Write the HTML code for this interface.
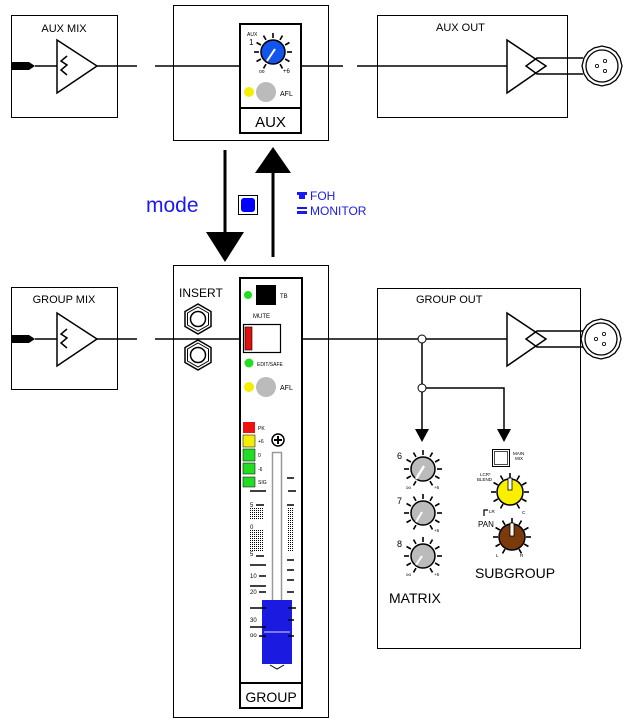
<!DOCTYPE html>
<html><head><meta charset="utf-8"><style>
html,body{margin:0;padding:0;background:#fff}
svg{display:block;font-family:"Liberation Sans",sans-serif}
</style></head><body>
<svg width="631" height="723" viewBox="0 0 631 723" xmlns="http://www.w3.org/2000/svg">
<defs>
<g id="tk" stroke="#000" stroke-width="1.6">
<line x1="0" y1="-14" x2="0" y2="-19" transform="rotate(-150)"/>
<line x1="0" y1="-14" x2="0" y2="-19" transform="rotate(-120)"/>
<line x1="0" y1="-14" x2="0" y2="-19" transform="rotate(-90)"/>
<line x1="0" y1="-14" x2="0" y2="-19" transform="rotate(-60)"/>
<line x1="0" y1="-14" x2="0" y2="-19" transform="rotate(-30)"/>
<line x1="0" y1="-14" x2="0" y2="-19"/>
<line x1="0" y1="-14" x2="0" y2="-19" transform="rotate(30)"/>
<line x1="0" y1="-14" x2="0" y2="-19" transform="rotate(60)"/>
<line x1="0" y1="-14" x2="0" y2="-19" transform="rotate(90)"/>
<line x1="0" y1="-14" x2="0" y2="-19" transform="rotate(120)"/>
<line x1="0" y1="-14" x2="0" y2="-19" transform="rotate(150)"/>
</g>
<g id="hex"><polygon points="0,-15 13,-7.5 13,7.5 0,15 -13,7.5 -13,-7.5" fill="#fff" stroke="#000" stroke-width="1.5"/><polygon points="0,-12 10.5,-6 10.5,6 0,12 -10.5,6 -10.5,-6" fill="none" stroke="#000"/><circle r="7.5" fill="none" stroke="#000" stroke-width="1.5"/></g>
<g id="xlr"><polygon points="20,0 18,8 14,14 8,18 0,20 -8,18 -14,14 -18,8 -20,0 -18,-8 -14,-14 -8,-18 0,-20 8,-18 14,-14 18,-8" fill="#fff" stroke="#000" stroke-width="1.3"/><circle r="16" fill="none" stroke="#000" stroke-width="1.3"/><circle r="1.6" cx="-5" cy="0" fill="none" stroke="#000" stroke-width=".8"/><circle r="1.6" cx="3" cy="-5" fill="none" stroke="#000" stroke-width=".8"/><circle r="1.6" cx="3" cy="5" fill="none" stroke="#000" stroke-width=".8"/></g>
<g id="amp"><polygon points="0,-26 40,0 0,27" fill="#fff" stroke="#000" stroke-width="1.5"/><polyline points="10,-10 4,-5 10,-1 4,4 10,9" fill="none" stroke="#000" stroke-width="1.5"/></g>
<g id="bal"><polygon points="0,-26 39,0 0,27" fill="#fff" stroke="#000" stroke-width="1.5"/></g>
<pattern id="dots" width="2" height="2" patternUnits="userSpaceOnUse"><rect width="1" height="1" fill="#000"/></pattern>
</defs>

<!-- AUX MIX -->
<rect x="11.5" y="15.5" width="106" height="102" fill="#fff" stroke="#000"/>
<text x="64" y="32" font-size="11" text-anchor="middle">AUX MIX</text>
<polygon points="11,62 29,62 35,66 29,70 11,70" fill="#000"/>
<line x1="35" y1="66" x2="57" y2="66" stroke="#000" stroke-width="1.5"/>
<use href="#amp" x="57" y="66"/>
<line x1="97" y1="66" x2="137" y2="66" stroke="#000" stroke-width="1.5"/>

<!-- AUX -->
<rect x="173.5" y="5.5" width="155" height="135" fill="#fff" stroke="#000"/>
<line x1="155" y1="66" x2="240" y2="66" stroke="#000" stroke-width="1.5"/>
<line x1="301" y1="66" x2="343" y2="66" stroke="#000" stroke-width="1.5"/>
<rect x="240" y="24" width="61" height="84" fill="#fff" stroke="#000" stroke-width="2"/>
<rect x="240" y="108" width="61" height="25" fill="#fff" stroke="#000" stroke-width="2"/>
<text x="270.5" y="127" font-size="15" text-anchor="middle">AUX</text>
<text x="247" y="36" font-size="5">AUX</text>
<text x="249" y="45" font-size="8">1</text>
<use href="#tk" x="273" y="52"/>
<circle cx="273" cy="52" r="12" fill="#1155ee" stroke="#000" stroke-width="1.5"/>
<line x1="267" y1="61" x2="275" y2="49" stroke="#fff" stroke-width="2"/>
<text x="259" y="73" font-size="5">oo</text><text x="283" y="73" font-size="6">+6</text>
<circle cx="249" cy="92" r="5" fill="#f4ee00"/>
<circle cx="266" cy="92" r="10" fill="#bbb"/>
<text x="280" y="96" font-size="7">AFL</text>

<!-- AUX OUT -->
<rect x="377.5" y="15.5" width="190" height="102" fill="#fff" stroke="#000"/>
<text x="436" y="31" font-size="11">AUX OUT</text>
<line x1="357" y1="66" x2="507" y2="66" stroke="#000" stroke-width="1.5"/>
<use href="#bal" x="507" y="66"/>
<polyline points="583,58 537,58 526,66 537,74 583,74" fill="none" stroke="#000" stroke-width="1.5"/>
<use href="#xlr" x="602" y="66"/>

<!-- arrows -->
<line x1="225" y1="150" x2="225" y2="233" stroke="#000" stroke-width="3"/>
<polygon points="206,232 244,232 225,262" fill="#000"/>
<line x1="273" y1="170" x2="273" y2="257" stroke="#000" stroke-width="3"/>
<polygon points="255,173 291,173 273,147" fill="#000"/>
<text x="146" y="212" font-size="21" fill="#1a1aee">mode</text>
<rect x="238.5" y="195.5" width="19" height="19" fill="#fff" stroke="#000"/>
<rect x="241" y="198" width="14" height="14" rx="3" fill="#0000ff"/>
<rect x="297" y="192" width="10" height="3" fill="#1a1aee"/><rect x="299" y="194" width="6" height="5" fill="#1a1aee"/>
<text x="310" y="200" font-size="12" fill="#1a1aee">FOH</text>
<rect x="297" y="207" width="10" height="2" fill="#1a1aee"/><rect x="297" y="211" width="10" height="3" fill="#1a1aee"/>
<text x="310" y="215" font-size="12" fill="#1a1aee">MONITOR</text>

<!-- GROUP MIX -->
<rect x="11.5" y="287.5" width="106" height="102" fill="#fff" stroke="#000"/>
<text x="64" y="303" font-size="11" text-anchor="middle">GROUP MIX</text>
<polygon points="11,335 29,335 35,339 29,343 11,343" fill="#000"/>
<line x1="35" y1="339" x2="57" y2="339" stroke="#000" stroke-width="1.5"/>
<use href="#amp" x="57" y="339"/>
<line x1="97" y1="339" x2="137" y2="339" stroke="#000" stroke-width="1.5"/>

<!-- GROUP channel -->
<rect x="173.5" y="265.5" width="155" height="452" fill="#fff" stroke="#000"/>
<line x1="155" y1="339" x2="241" y2="339" stroke="#000" stroke-width="1.5"/>
<line x1="301" y1="339" x2="505" y2="339" stroke="#000" stroke-width="1.5"/>
<text x="179" y="297" font-size="12">INSERT</text>
<use href="#hex" x="198" y="319"/>
<use href="#hex" x="198" y="355"/>
<rect x="240" y="278" width="62" height="405" fill="#fff" stroke="#000" stroke-width="2"/>
<rect x="240" y="683" width="62" height="25" fill="#fff" stroke="#000" stroke-width="2"/>
<text x="271" y="702" font-size="14" text-anchor="middle">GROUP</text>
<circle cx="248" cy="295" r="4" fill="#22dd22"/>
<rect x="256" y="285" width="20" height="20" fill="#000"/>
<text x="280" y="298" font-size="6">TB</text>
<text x="253" y="318" font-size="6">MUTE</text>
<rect x="243.5" y="324.5" width="37" height="28" fill="#fff" stroke="#000" stroke-width="1.2"/>
<rect x="245" y="327" width="7" height="23" fill="#e01010" stroke="#000" stroke-width=".6"/>
<circle cx="249" cy="363" r="4.5" fill="#22dd22"/>
<text x="257" y="366" font-size="5">EDIT/SAFE</text>
<circle cx="249" cy="387" r="5" fill="#f4ee00"/>
<circle cx="266" cy="387" r="10" fill="#bbb"/>
<text x="280" y="390" font-size="7">AFL</text>
<rect x="243" y="422" width="12" height="11" fill="#ee1111"/>
<rect x="243" y="435" width="12" height="12" fill="#f4ee00" stroke="#000" stroke-width=".5"/>
<rect x="243" y="449" width="12" height="12" fill="#22dd22" stroke="#000" stroke-width=".5"/>
<rect x="243" y="463" width="12" height="11" fill="#22dd22" stroke="#000" stroke-width=".5"/>
<rect x="243" y="477" width="12" height="10" fill="#22dd22" stroke="#000" stroke-width=".5"/>
<g font-size="5"><text x="258" y="430">PK</text><text x="258" y="443">+6</text><text x="258" y="457">0</text><text x="258" y="471">-6</text><text x="258" y="484">SIG</text></g>
<circle cx="278" cy="440" r="6" fill="#fff" stroke="#000" stroke-width="1.5"/>
<path d="M278 436v8M274 440h8" stroke="#000" stroke-width="2"/>
<rect x="272.5" y="452.5" width="9" height="210" fill="#fff" stroke="#999" stroke-width="1.5"/>
<g stroke="#000" stroke-width="1.5">
<line x1="250" y1="491" x2="266" y2="491"/><line x1="288" y1="491" x2="296" y2="491"/>
<line x1="287" y1="478" x2="294" y2="478"/>
<line x1="256" y1="505" x2="264" y2="505"/><line x1="287" y1="505" x2="294" y2="505"/>
<line x1="256" y1="556" x2="264" y2="556"/><line x1="287" y1="560" x2="294" y2="560"/>
<line x1="250" y1="565" x2="266" y2="565"/><line x1="287" y1="570" x2="294" y2="570"/>
<line x1="259" y1="576" x2="266" y2="576"/><line x1="287" y1="580" x2="294" y2="580"/>
<line x1="250" y1="586" x2="266" y2="586"/><line x1="287" y1="592" x2="294" y2="592"/>
<line x1="259" y1="592" x2="266" y2="592"/>
</g>
<rect x="250" y="508" width="14" height="11" fill="url(#dots)"/>
<rect x="250" y="530" width="14" height="22" fill="url(#dots)"/>
<rect x="288" y="508" width="6" height="44" fill="url(#dots)"/>
<g font-size="6"><text x="250" y="507">5</text><text x="250" y="529">0</text><text x="250" y="556">5</text><text x="250" y="578">10</text><text x="250" y="594">20</text><text x="250" y="622">30</text><text x="250" y="637">oo</text></g>
<rect x="262" y="600" width="30" height="64" fill="#1a1ae0"/>
<line x1="264" y1="632" x2="290" y2="632" stroke="#9999ff" stroke-width="1.5"/>
<g stroke="#000" stroke-width="1.5"><line x1="250" y1="608" x2="266" y2="608"/><line x1="288" y1="608" x2="296" y2="608"/><line x1="250" y1="627" x2="266" y2="627"/><line x1="288" y1="620" x2="294" y2="620"/><line x1="288" y1="636" x2="294" y2="636"/><line x1="259" y1="636" x2="266" y2="636"/></g>
<polyline points="270,665 277,669 284,665" fill="none" stroke="#000"/>

<!-- GROUP OUT -->
<rect x="377.5" y="288.5" width="203" height="360" fill="#fff" stroke="#000"/>
<text x="416" y="303" font-size="11">GROUP OUT</text>
<line x1="377" y1="339" x2="507" y2="339" stroke="#000" stroke-width="1.5"/>
<use href="#bal" x="507" y="339"/>
<polyline points="583,331 537,331 526,339 537,347 583,347" fill="none" stroke="#000" stroke-width="1.5"/>
<use href="#xlr" x="601" y="339"/>
<line x1="422" y1="339" x2="422" y2="430" stroke="#000" stroke-width="1.5"/>
<polyline points="422,388 504,388 504,430" fill="none" stroke="#000" stroke-width="1.5"/>
<circle cx="422" cy="339" r="4" fill="#fff" stroke="#000"/>
<circle cx="422" cy="388" r="4" fill="#fff" stroke="#000"/>
<polygon points="415,429 429,429 422,442" fill="#000"/>
<polygon points="497,429 511,429 504,442" fill="#000"/>
<g font-size="9"><text x="397" y="459">6</text><text x="397" y="504">7</text><text x="397" y="547">8</text></g>
<use href="#tk" x="423" y="469"/>
<circle cx="423" cy="469" r="12" fill="#bbb" stroke="#000" stroke-width="1.5"/>
<line x1="416" y1="479" x2="424" y2="466" stroke="#fff" stroke-width="2.5"/>
<use href="#tk" x="423" y="513"/>
<circle cx="423" cy="513" r="12" fill="#bbb" stroke="#000" stroke-width="1.5"/>
<line x1="416" y1="522" x2="422" y2="512" stroke="#fff" stroke-width="2"/>
<use href="#tk" x="423" y="556"/>
<circle cx="423" cy="556" r="12" fill="#bbb" stroke="#000" stroke-width="1.5"/>
<line x1="416" y1="565" x2="422" y2="556" stroke="#fff" stroke-width="2"/>
<g font-size="4.5"><text x="406" y="489">oo</text><text x="434" y="489">+6</text><text x="434" y="532">+6</text><text x="406" y="576">oo</text><text x="434" y="576">+6</text></g>
<text x="389" y="603" font-size="14">MATRIX</text>
<rect x="492.5" y="449.5" width="17" height="17" fill="#fff" stroke="#000"/>
<rect x="494.5" y="451.5" width="13" height="13" fill="none" stroke="#000" stroke-width=".7"/>
<g font-size="4.5"><text x="513" y="455">MAIN</text><text x="515" y="460">MIX</text><text x="480" y="476">LCR*</text><text x="477" y="481">BLEND</text><text x="489" y="513">LR</text><text x="522" y="514">C</text><text x="496" y="557">L</text><text x="520" y="557">R</text></g>
<use href="#tk" x="510" y="492"/>
<circle cx="510" cy="492" r="13" fill="#f8f000" stroke="#000" stroke-width="1.5"/>
<rect x="508" y="478" width="4" height="12" fill="#fff" stroke="#000" stroke-width=".8"/>
<use href="#tk" x="512" y="537"/>
<circle cx="512" cy="537" r="13" fill="#7a3a0a" stroke="#000" stroke-width="1.5"/>
<rect x="510" y="523" width="4" height="13" fill="#fff" stroke="#000" stroke-width=".8"/>
<polyline points="484,516 484,510 488,510" fill="none" stroke="#000" stroke-width="1.2"/>
<text x="478" y="527" font-size="8">PAN</text>
<text x="515" y="578" font-size="14" text-anchor="middle">SUBGROUP</text>
</svg>
</body></html>
